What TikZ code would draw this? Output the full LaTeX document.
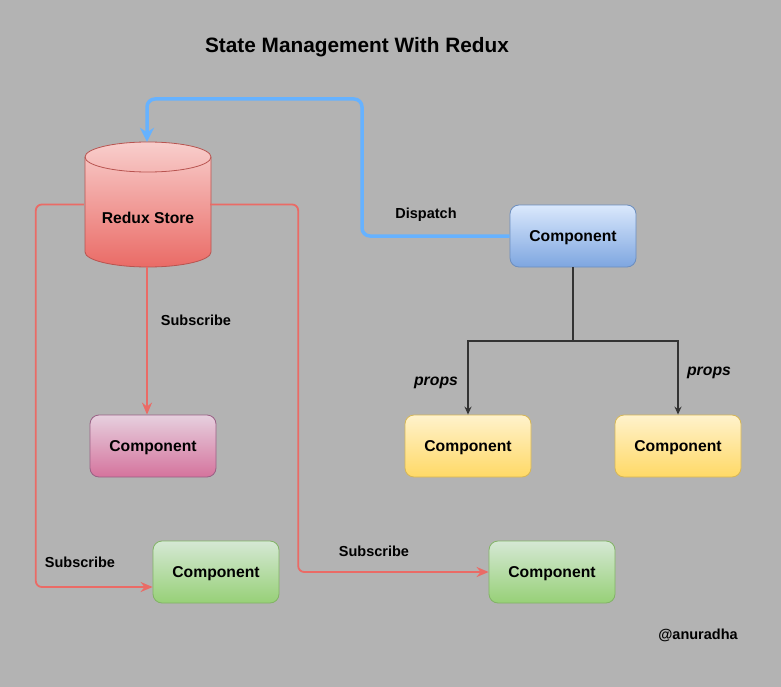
\documentclass[tikz,border=0pt]{standalone}
\usepackage{fontspec}
\setmainfont{Liberation Sans}
\usepackage{tikz}
\usetikzlibrary{arrows.meta}
\definecolor{bggray}{HTML}{B3B3B3}
\definecolor{storetop}{HTML}{F8CECC}
\definecolor{storebot}{HTML}{EA6B66}
\definecolor{storeline}{HTML}{B85450}
\definecolor{pinktop}{HTML}{E6D0DE}
\definecolor{pinkbot}{HTML}{D5739D}
\definecolor{pinkline}{HTML}{996185}
\definecolor{greentop}{HTML}{D5E8D4}
\definecolor{greenbot}{HTML}{97D077}
\definecolor{greenline}{HTML}{82B366}
\definecolor{yellowtop}{HTML}{FFF2CC}
\definecolor{yellowbot}{HTML}{FFD966}
\definecolor{yellowline}{HTML}{D6B656}
\definecolor{bluetop}{HTML}{DAE8FC}
\definecolor{bluebot}{HTML}{7EA6E0}
\definecolor{blueline}{HTML}{6C8EBF}
\definecolor{dispatchcol}{HTML}{66B2FF}
\definecolor{subcol}{HTML}{EA6B66}

\begin{document}
\begin{tikzpicture}[x=1pt,y=-1pt,
	comp/.style={draw,rounded corners=9pt,minimum width=126pt,minimum height=62pt,text depth=0pt,
		font=\fontsize{15.7}{18}\selectfont\bfseries,line width=0.8pt},
	lbl/.style={font=\fontsize{14.5}{17}\selectfont\bfseries},
	propslbl/.style={font=\fontsize{15.8}{18}\selectfont\bfseries\itshape},
	subline/.style={draw=subcol,line width=1.8pt,rounded corners=6pt,-{Stealth[length=12pt,width=10pt]}},
	propsline/.style={draw=black!80,line width=1.3pt,-{Stealth[length=8pt,width=7pt]}},
	dispatchline/.style={draw=dispatchcol,line width=3.5pt,rounded corners=8pt,-{Stealth[length=14pt,width=14pt]}}]
			\fill[bggray] (0,0) rectangle (781,687);
			\useasboundingbox (0,0) rectangle (781,687);
			\node[font=\fontsize{20.8}{24}\selectfont\bfseries] (title) at (357,47) {State Management With Redux};
			\shade[top color=storetop,bottom color=storebot,draw=storeline,line width=0.8pt]
				(85,157) -- (85,252) arc[start angle=180,end angle=0,x radius=63,y radius=15]
				-- (211,157) arc[start angle=0,end angle=-180,x radius=63,y radius=15] -- cycle;
			\draw[storeline,line width=0.8pt] (85,157) arc[start angle=180,end angle=0,x radius=63,y radius=15];
			\node[minimum width=126pt,minimum height=125pt,inner sep=0pt] (store) at (147,204.5) {};
			\node[font=\fontsize{15.7}{18}\selectfont\bfseries] (storetext) at (148,218) {Redux Store};
			\node[comp,draw=blueline,top color=bluetop,bottom color=bluebot] (comp) at (573,236) {Component};
			\node[comp,draw=pinkline,top color=pinktop,bottom color=pinkbot] (pink) at (153,446) {Component};
			\node[comp,draw=yellowline,top color=yellowtop,bottom color=yellowbot] (yel1) at (468,446) {Component};
			\node[comp,draw=yellowline,top color=yellowtop,bottom color=yellowbot] (yel2) at (678,446) {Component};
			\node[comp,draw=greenline,top color=greentop,bottom color=greenbot] (green1) at (216,572) {Component};
			\node[comp,draw=greenline,top color=greentop,bottom color=greenbot] (green2) at (552,572) {Component};
			\coordinate (split) at (573,341);
			\draw[dispatchline] (comp.west) -| (362,99) -| (store.north);
			\draw[subline] (store.south) -- (store.south |- pink.north);
			\draw[subline] (store.west) -- ++(-48,0) |- ([yshift=-15pt]green1.west);
			\draw[subline] (store.east) -- ++(88,0) |- (green2.west);
			\draw[draw=black!80,line width=1.3pt] (comp.south) -- (split);
			\draw[propsline] (split) -| (yel1.north);
			\draw[propsline] (split) -| (yel2.north);
			\node[lbl] (dispatch) at (426,215) {Dispatch};
			\node[lbl] (sub1) at (196,320) {Subscribe};
			\node[lbl] (sub2) at (80,562) {Subscribe};
			\node[lbl] (sub3) at (374,551) {Subscribe};
			\node[propslbl] (props1) at (436,383) {props};
			\node[propslbl] (props2) at (709,373) {props};
			\node[lbl] (author) at (698,635) {@anuradha};
		\end{tikzpicture}
\end{document}
